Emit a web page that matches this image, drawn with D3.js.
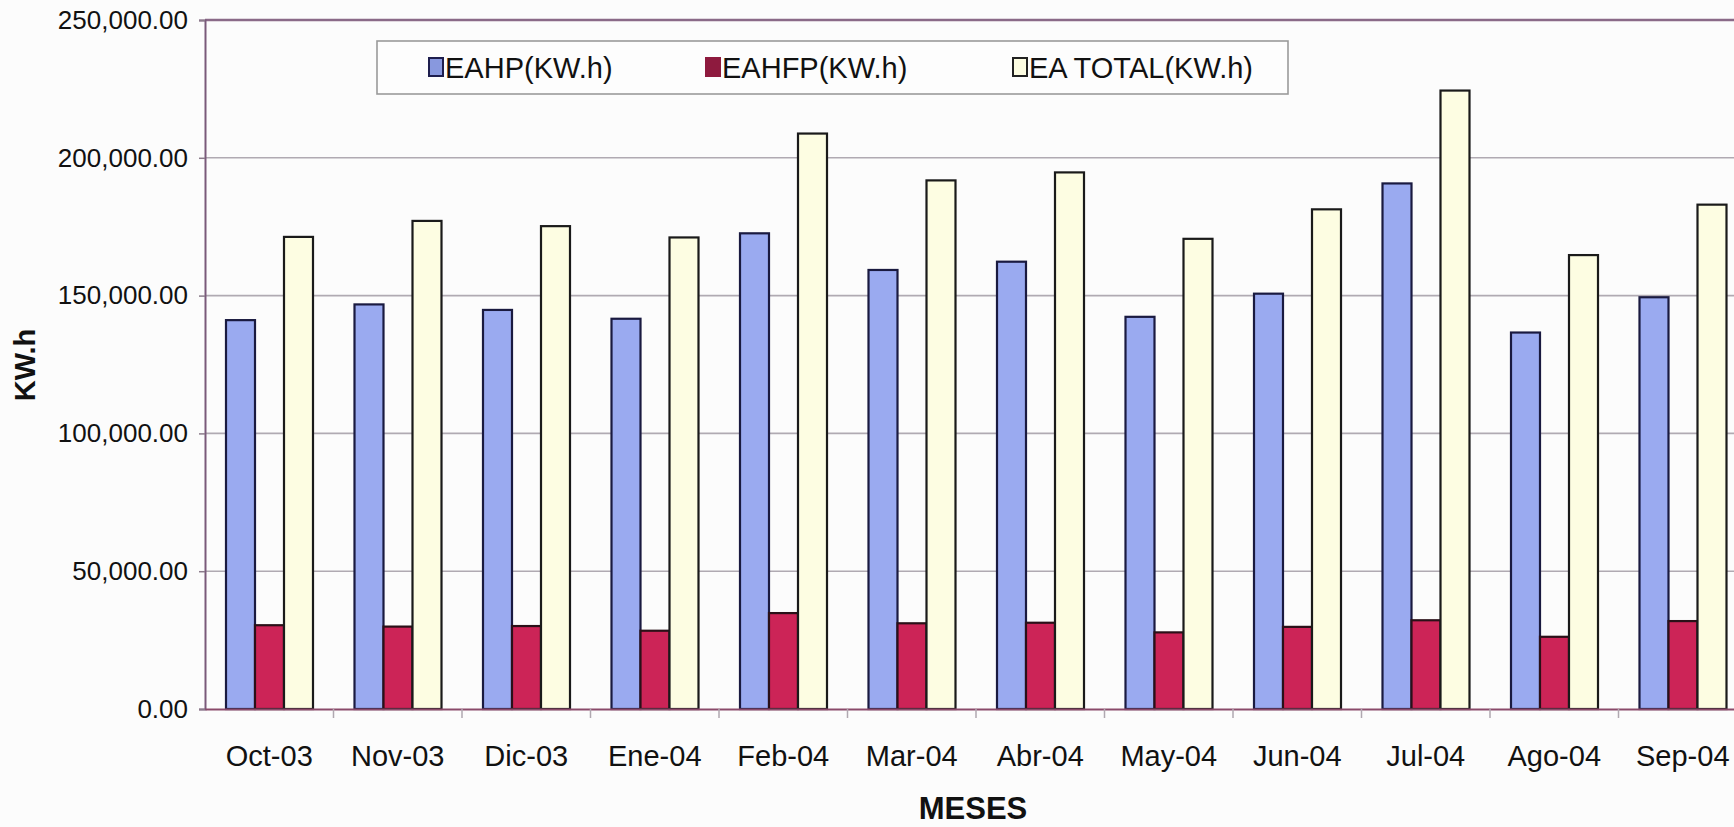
<!DOCTYPE html>
<html>
<head>
<meta charset="utf-8">
<script src="https://cdn.jsdelivr.net/npm/d3@7"></script>
<style>
  html, body { margin: 0; padding: 0; background: #fcfcfc; }
  svg { display: block; font-family: "Liberation Sans", Arial, sans-serif; }
</style>
</head>
<body>
<svg id="chart" width="1734" height="827"></svg>
<script>
// Monthly active energy (KW.h): peak, off-peak and total
const meses = ["Oct-03","Nov-03","Dic-03","Ene-04","Feb-04","Mar-04","Abr-04","May-04","Jun-04","Jul-04","Ago-04","Sep-04"];
const eahp = [141100,146800,144800,141600,172600,159300,162300,142300,150700,190700,136600,149400];
const eahfp = [30400,29900,30100,28400,34800,31100,31300,27800,29800,32200,26200,31900];
const eaTotal = [171300,177100,175200,171100,208800,191800,194700,170600,181300,224400,164700,183000];
const yTicks = [0,50000,100000,150000,200000,250000];
const seriesNames = ["EAHP(KW.h)","EAHFP(KW.h)","EA TOTAL(KW.h)"];

const seriesFill = ["#9aaaf0","#cc2457","#fdfde2"];
const seriesStroke = ["#1a1a40","#2a1018","#1a1a1a"];
const swatchFill = ["#8898de","#8e1a3e","#fdfde2"];
const swatchStroke = ["#1e1e4e","#8e1a3e","#222"];

const rows = meses.map((m, i) => ({ mes: m, values: [eahp[i], eahfp[i], eaTotal[i]] }));

const svg = d3.select("#chart");
const plotLeft = 205, plotTop = 20, plotBottom = 709;
const band = 128.5;

const x0 = d3.scaleBand().domain(meses).range([plotLeft, plotLeft + band * meses.length]).paddingInner(0).paddingOuter(0);
const x1 = d3.scaleBand().domain(d3.range(3)).range([21, 21 + 87]);
const y = d3.scaleLinear().domain([0, 250000]).range([plotBottom, plotTop]);

// horizontal gridlines
svg.append("g").selectAll("line").data(yTicks.filter(t => t > 0 && t < 250000)).join("line")
  .attr("x1", plotLeft).attr("x2", 1734)
  .attr("y1", d => y(d)).attr("y2", d => y(d))
  .attr("stroke", "#b0aab2").attr("stroke-width", 1.6);

// top frame line
svg.append("line").attr("x1", plotLeft).attr("x2", 1734).attr("y1", y(250000)).attr("y2", y(250000))
  .attr("stroke", "#8a6a88").attr("stroke-width", 2.4);

// bars
const groups = svg.append("g").selectAll("g").data(rows).join("g")
  .attr("transform", d => `translate(${x0(d.mes)},0)`);
groups.selectAll("rect").data(d => d.values.map((v, k) => ({ v, k }))).join("rect")
  .attr("x", d => x1(d.k))
  .attr("width", x1.bandwidth())
  .attr("y", d => y(d.v))
  .attr("height", d => y(0) - y(d.v))
  .attr("fill", d => seriesFill[d.k])
  .attr("stroke", d => seriesStroke[d.k])
  .attr("stroke-width", 2.2);

// y axis
const yAxis = d3.axisLeft(y).tickValues(yTicks).tickFormat(d3.format(",.2f")).tickSize(6).tickPadding(11);
const gy = svg.append("g").attr("transform", `translate(${plotLeft},0)`).call(yAxis);
gy.select(".domain").attr("stroke", "#7a5a7a").attr("stroke-width", 2);
gy.selectAll(".tick line").attr("stroke", "#8a7a8a").attr("stroke-width", 1.5);
gy.selectAll(".tick text").attr("font-size", 26).attr("fill", "#111").attr("font-family", "Liberation Sans, Arial, sans-serif");

// x axis
const xAxis = d3.axisBottom(x0).tickSize(0).tickPadding(36);
const gx = svg.append("g").attr("transform", `translate(0,${plotBottom})`).call(xAxis);
gx.select(".domain").attr("stroke", "#8a4a6a").attr("stroke-width", 2);
gx.selectAll(".tick text").attr("font-size", 29).attr("fill", "#111").attr("font-family", "Liberation Sans, Arial, sans-serif");
// category separators below the axis
svg.append("g").selectAll("line").data(meses.slice(1)).join("line")
  .attr("x1", d => x0(d)).attr("x2", d => x0(d))
  .attr("y1", plotBottom).attr("y2", plotBottom + 9)
  .attr("stroke", "#b0a8b0").attr("stroke-width", 1.5);

// axis titles
svg.append("text").attr("x", 973).attr("y", 819).attr("text-anchor", "middle")
  .attr("font-size", 31).attr("font-weight", "bold").attr("fill", "#111").text("MESES");
svg.append("text").attr("transform", "translate(35,365) rotate(-90)").attr("text-anchor", "middle")
  .attr("font-size", 29).attr("font-weight", "bold").attr("fill", "#111").text("KW.h");

// legend
const lg = svg.append("g");
lg.append("rect").attr("x", 377).attr("y", 41).attr("width", 911).attr("height", 53)
  .attr("fill", "#fdfdfd").attr("stroke", "#9a9a9a").attr("stroke-width", 1.6);
const legendX = [429, 706, 1013];
seriesNames.forEach((name, k) => {
  lg.append("rect").attr("x", legendX[k]).attr("y", 58).attr("width", 14).attr("height", 18)
    .attr("fill", swatchFill[k]).attr("stroke", swatchStroke[k]).attr("stroke-width", 2);
  lg.append("text").attr("x", legendX[k] + 16).attr("y", 78)
    .attr("font-size", 29).attr("fill", "#111").text(name);
});
</script>
</body>
</html>
